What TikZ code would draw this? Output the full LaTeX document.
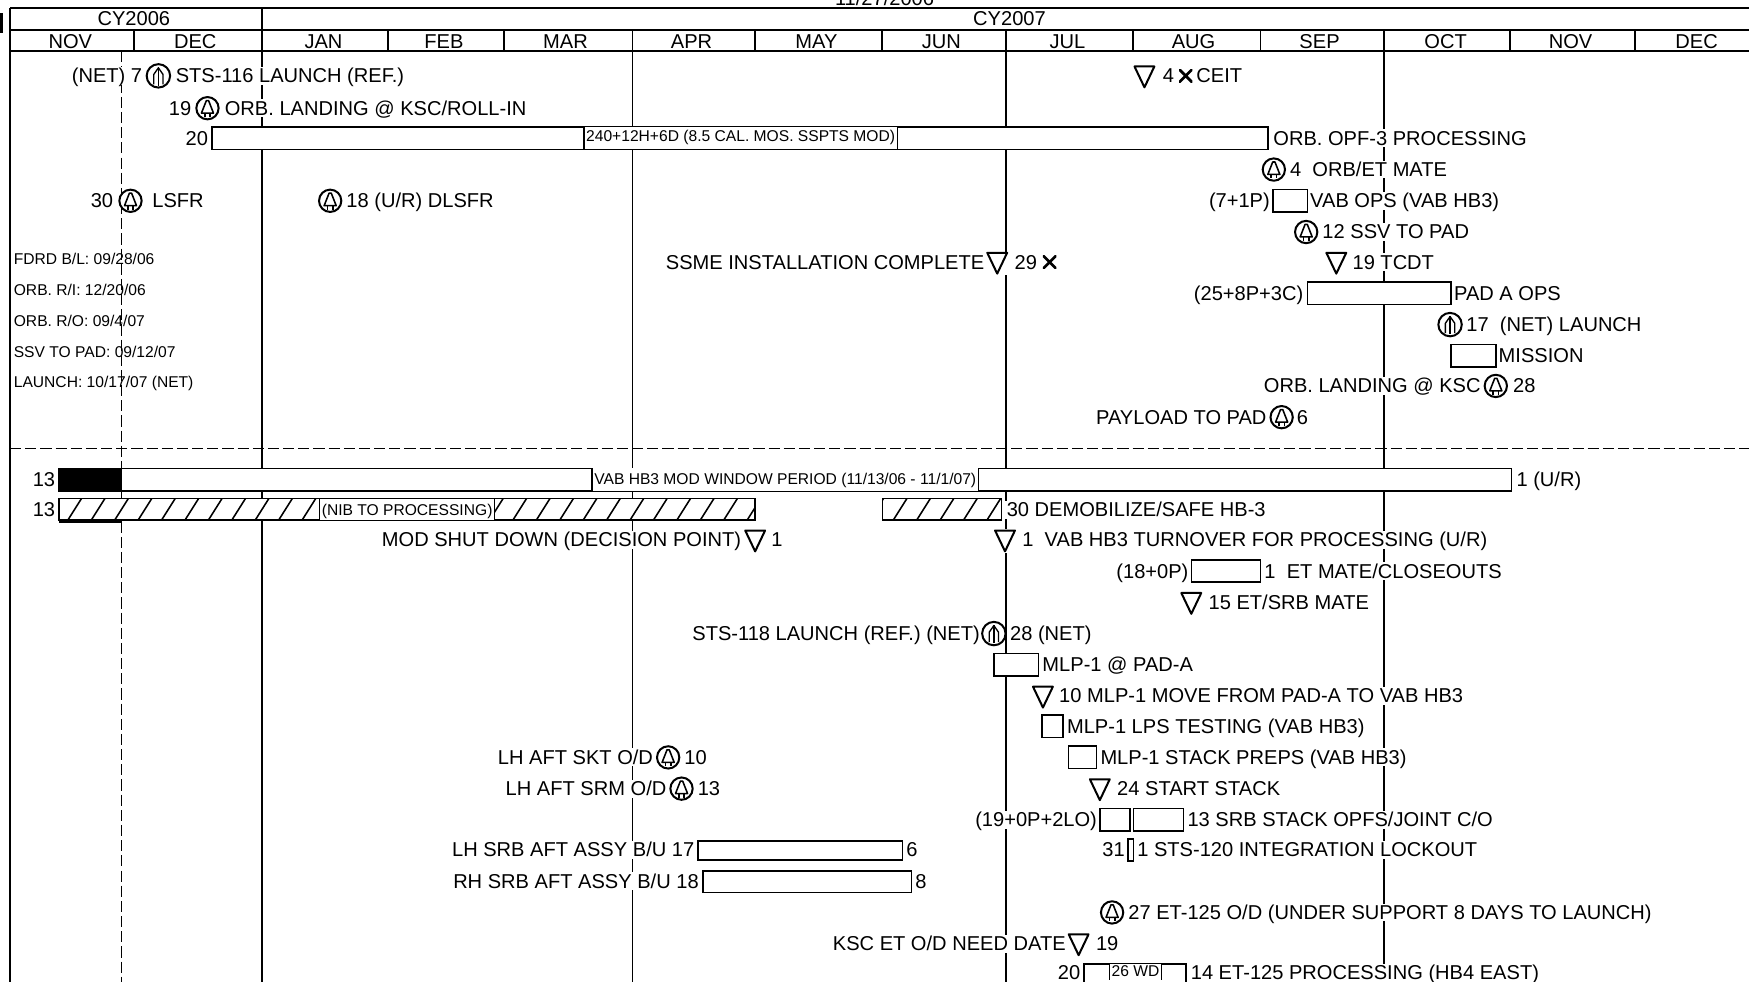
\documentclass[tikz,border=0pt]{standalone}
\usepackage{fontspec}
\setmainfont{Liberation Sans}
\usepackage{tikz}

\tikzset{
    frameline/.style={line width=0.8pt},
    gridline/.style={line width=0.75pt},
    today/.style={line width=0.7pt, dash pattern=on 5pt off 1.8pt},
    hdr/.style={font=\fontsize{9}{10}\selectfont, inner sep=0pt, text height=6.5pt, text depth=0.3pt},
    lbl/.style={font=\fontsize{9}{10}\selectfont, inner sep=0.6pt, fill=white, text height=6.5pt, text depth=0.3pt},
    rlbl/.style={lbl, anchor=west},
    llbl/.style={lbl, anchor=east},
    note/.style={font=\fontsize{7}{8}\selectfont, inner sep=0pt, anchor=west, text height=5pt, text depth=0.2pt},
    taskbox/.style={draw, line width=0.7pt, fill=white},
    hatch/.style={line width=0.7pt},
    tickline/.style={draw, line width=0.6pt},
    inlbl/.style={font=\fontsize{7}{8}\selectfont, fill=white, inner sep=0.8pt, minimum height=10pt,
        text height=5pt, text depth=0.3pt,
        append after command={(\tikzlastnode.north west) edge[tickline] (\tikzlastnode.south west)
                              (\tikzlastnode.north east) edge[tickline] (\tikzlastnode.south east)}},
    % milestone: open triangle pointing down
    drop/.style={minimum width=10pt, minimum height=10.5pt, inner sep=0pt, fill=white,
        path picture={
            \draw[line width=0.9pt, line join=round]
                ([shift={(0.55pt,-0.55pt)}]path picture bounding box.north west)
                -- ([shift={(-0.55pt,-0.55pt)}]path picture bounding box.north east)
                -- ([shift={(0pt,0.6pt)}]path picture bounding box.south) -- cycle;}},
    % orbiter landing / roll-over symbol
    landing/.style={circle, draw, line width=0.9pt, fill=white, minimum size=10pt, inner sep=0pt,
        path picture={
            \begin{scope}[shift={(path picture bounding box.center)}]
                \draw[line width=0.7pt, line join=round] (-2.7pt,-2.2pt) -- (-0.5pt,3.4pt) -- (0.5pt,3.4pt) -- (2.7pt,-2.2pt) -- cycle;
                \draw[line width=0.7pt] (-1.2pt,-2.2pt) -- (-1.2pt,-4pt) (1.2pt,-2.2pt) -- (1.2pt,-4pt);
            \end{scope}}},
    % launch symbol
    launch/.style={circle, draw, line width=0.9pt, fill=white, minimum size=10.5pt, inner sep=0pt,
        path picture={
            \begin{scope}[shift={(path picture bounding box.center)}]
                \draw[line width=0.6pt] (0pt,-4.4pt) -- (0pt,3.8pt);
                \draw[line width=0.6pt, line join=round] (-2.1pt,-3.8pt) -- (-2.1pt,0.6pt) -- (0pt,3.6pt) -- (2.1pt,0.6pt) -- (2.1pt,-3.8pt);
            \end{scope}}},
    xmark/.style={minimum size=6pt, inner sep=0pt,
        path picture={
            \draw[line width=1.2pt] (path picture bounding box.north west) -- (path picture bounding box.south east)
                                    (path picture bounding box.north east) -- (path picture bounding box.south west);}}
}

\begin{document}
\begin{tikzpicture}[x=0.5pt, y=-0.5pt]
        \useasboundingbox (0,0) rectangle (1568,880);

        % header: years and months
        \node[hdr] (date) at (793,-1) {11/27/2006};
        \fill (0,12) rectangle (3,30);
        \draw[frameline] (9,7) -- (1568,7);
        \draw[frameline] (9,27) -- (1568,27);
        \draw[frameline] (9,46) -- (1568,46);
        \draw[frameline] (9,7) -- (9,880);
        \draw[gridline] (235,7) -- (235,27);
        \node[hdr] (cy6) at (120,17) {CY2006};
        \node[hdr] (cy7) at (905,17) {CY2007};
        \foreach \mx in {120,235,348,452,567,677,791,902,1016,1130,1241,1354,1466}
            \draw[gridline] (\mx,27) -- (\mx,46);
        \foreach \mx/\mn [count=\i] in {63/NOV,175/DEC,290/JAN,398/FEB,507/MAR,620/APR,732/MAY,
                                       844/JUN,957/JUL,1070/AUG,1183/SEP,1296/OCT,1408/NOV,1521/DEC}
            \node[hdr] (mon\i) at (\mx,37) {\mn};

        % quarter lines, status date, section break
        \foreach \qx in {235,567,902,1241}
            \draw[gridline] (\qx,46) -- (\qx,880);
        \draw[today] (109,46) -- (109,880);
        \draw[today] (9,402) -- (1568,402);

        % ---- orbiter flow ----
        \node[llbl] (net7) at (129,68) {(NET) 7};
        \node[launch] (l116) at (142,68) {};
        \node[rlbl] (sts116) at (156,68) {STS-116 LAUNCH (REF.)};
        \node[drop] (ceitd) at (1026,69) {};
        \node[rlbl] (ceitn) at (1041,68) {4};
        \node[xmark] (ceitx) at (1063,68) {};
        \node[rlbl] (ceit) at (1071,68) {CEIT};

        \node[llbl] (rin19) at (173,97) {19};
        \node[landing] (rins) at (186,97) {};
        \node[rlbl] (rin) at (200,97) {ORB. LANDING @ KSC/ROLL-IN};

        \node[llbl] (opf20) at (188,124) {20};
        \draw[taskbox] (190,114) rectangle (1137,134);
        \node[inlbl, text depth=1.9pt] (opfin) at (664,124) {240+12H+6D (8.5 CAL. MOS. SSPTS MOD)};
        \node[rlbl] (opf) at (1140,124) {ORB. OPF-3 PROCESSING};

        \node[landing] (etms) at (1142,152) {};
        \node[rlbl] (etm) at (1155,152) {4\ \ ORB/ET MATE};

        \node[llbl] (lsfr30) at (103,180) {30};
        \node[landing] (lsfrs) at (117,180) {};
        \node[rlbl] (lsfr) at (135,180) {LSFR};
        \node[landing] (dlsfrs) at (296,180) {};
        \node[rlbl] (dlsfr) at (309,180) {18 (U/R) DLSFR};
        \node[llbl] (vab71) at (1140,180) {(7+1P)};
        \draw[taskbox] (1141,170) rectangle (1172,190);
        \node[rlbl] (vabops) at (1173,180) {VAB OPS (VAB HB3)};

        \node[landing] (ssvs) at (1171,208) {};
        \node[rlbl] (ssv) at (1184,208) {12 SSV TO PAD};

        \node[llbl] (ssme) at (884,235) {SSME INSTALLATION COMPLETE};
        \node[drop] (ssmed) at (894,236) {};
        \node[rlbl] (ssme29) at (908,235) {29};
        \node[xmark] (ssmex) at (941,235) {};
        \node[drop] (tcdtd) at (1198,236) {};
        \node[rlbl] (tcdt) at (1211,235) {19 TCDT};

        \node[llbl] (pad258) at (1170,263) {(25+8P+3C)};
        \draw[taskbox] (1172,253) rectangle (1301,273);
        \node[rlbl] (padops) at (1302,263) {PAD A OPS};

        \node[launch] (l17s) at (1300,291) {};
        \node[rlbl] (l17) at (1313,291) {17\ \ (NET) LAUNCH};

        \draw[taskbox] (1301,309) rectangle (1341,329);
        \node[rlbl] (mission) at (1342,319) {MISSION};

        \node[llbl] (kscl) at (1329,346) {ORB. LANDING @ KSC};
        \node[landing] (kscls) at (1341,346) {};
        \node[rlbl] (kscl28) at (1355,346) {28};

        \node[llbl] (pay) at (1137,374) {PAYLOAD TO PAD};
        \node[landing] (pays) at (1149,374) {};
        \node[rlbl] (pay6) at (1161,374) {6};

        % key dates
        \node[note] (fdrd) at (12,232) {FDRD B/L: 09/28/06};
        \node[note] (orbri) at (12,260) {ORB. R/I: 12/20/06};
        \node[note] (orbro) at (12,288) {ORB. R/O: 09/4/07};
        \node[note] (ssvpad) at (12,316) {SSV TO PAD: 09/12/07};
        \node[note] (lnch) at (12,343) {LAUNCH: 10/17/07 (NET)};

        % ---- VAB HB3 / stacking flow ----
        \node[llbl] (hb13) at (51,430) {13};
        \draw[taskbox] (53,420) rectangle (1355,440);
        \fill (53,420) rectangle (109,440);
        \node[inlbl] (hbin) at (704,430) {VAB HB3 MOD WINDOW PERIOD (11/13/06 - 11/1/07)};
        \node[rlbl] (hbur) at (1358,430) {1 (U/R)};

        \node[llbl] (nib13) at (51,457) {13};
        \draw[taskbox] (53,447) rectangle (677,466);
        \begin{scope}
            \clip (53,447) rectangle (677,466);
            \foreach \hx in {40,61,...,690}
                \draw[hatch] (\hx,466) -- ++(12,-19);
        \end{scope}
        \draw[taskbox, fill=none] (53,447) rectangle (677,466);
        \fill (53,465) rectangle (109,469);
        \node[inlbl, minimum height=9.5pt] (nibin) at (365,457) {(NIB TO PROCESSING)};

        \draw[taskbox] (791,447) rectangle (898,466);
        \begin{scope}
            \clip (791,447) rectangle (898,466);
            \foreach \hx in {780,801,...,900}
                \draw[hatch] (\hx,466) -- ++(12,-19);
        \end{scope}
        \draw[taskbox, fill=none] (791,447) rectangle (898,466);
        \node[rlbl] (demob) at (901,457) {30 DEMOBILIZE/SAFE HB-3};

        \node[llbl] (modsd) at (666,484) {MOD SHUT DOWN (DECISION POINT)};
        \node[drop] (modsdd) at (677,485) {};
        \node[rlbl] (modsd1) at (690,484) {1};
        \node[drop] (turnd) at (901,485) {};
        \node[rlbl] (turn) at (915,484) {1\ \ VAB HB3 TURNOVER FOR PROCESSING (U/R)};

        \node[llbl] (et180) at (1067,512) {(18+0P)};
        \draw[taskbox] (1068,502) rectangle (1130,522);
        \node[rlbl] (etmate) at (1132,512) {1\ \ ET MATE/CLOSEOUTS};

        \node[drop] (srbd) at (1068,541) {};
        \node[rlbl] (srbm) at (1082,540) {15 ET/SRB MATE};

        \node[llbl] (sts118) at (880,568) {STS-118 LAUNCH (REF.) (NET)};
        \node[launch] (l118) at (891,568) {};
        \node[rlbl] (n28) at (904,568) {28 (NET)};

        \draw[taskbox] (891,586) rectangle (931,606);
        \node[rlbl] (mlppad) at (933,596) {MLP-1 @ PAD-A};

        \node[drop] (moved) at (935,625) {};
        \node[rlbl] (mlpmove) at (948,624) {10 MLP-1 MOVE FROM PAD-A TO VAB HB3};

        \draw[taskbox] (934,641) rectangle (953,661);
        \node[rlbl] (lps) at (955,651) {MLP-1 LPS TESTING (VAB HB3)};

        \node[llbl] (skt) at (587,679) {LH AFT SKT O/D};
        \node[landing] (skts) at (599,679) {};
        \node[rlbl] (skt10) at (612,679) {10};
        \draw[taskbox] (958,669) rectangle (983,689);
        \node[rlbl] (preps) at (985,679) {MLP-1 STACK PREPS (VAB HB3)};

        \node[llbl] (srm) at (599,707) {LH AFT SRM O/D};
        \node[landing] (srms) at (611,707) {};
        \node[rlbl] (srm13) at (624,707) {13};
        \node[drop] (stackd) at (986,708) {};
        \node[rlbl] (stack) at (1000,707) {24 START STACK};

        \node[llbl] (srb19) at (985,735) {(19+0P+2LO)};
        \draw[taskbox] (986,725) rectangle (1013,745);
        \draw[taskbox] (1016,725) rectangle (1061,745);
        \node[rlbl] (srbops) at (1063,735) {13 SRB STACK OPFS/JOINT C/O};

        \node[llbl] (lhsrb) at (624,762) {LH SRB AFT ASSY B/U 17};
        \draw[taskbox] (626,754) rectangle (809,771);
        \node[rlbl] (lhsrb6) at (811,762) {6};
        \node[llbl] (lock31) at (1010,762) {31};
        \draw[taskbox] (1011,752) rectangle (1016,772);
        \node[rlbl] (lock) at (1018,762) {1 STS-120 INTEGRATION LOCKOUT};

        \node[llbl] (rhsrb) at (628,790) {RH SRB AFT ASSY B/U 18};
        \draw[taskbox] (630,781) rectangle (817,800);
        \node[rlbl] (rhsrb8) at (819,790) {8};

        \node[landing] (et125s) at (997,818) {};
        \node[rlbl] (et125) at (1010,818) {27 ET-125 O/D (UNDER SUPPORT 8 DAYS TO LAUNCH)};

        \node[llbl] (need) at (957,846) {KSC ET O/D NEED DATE};
        \node[drop] (needd) at (967,847) {};
        \node[rlbl] (need19) at (981,846) {19};

        \node[llbl] (hb420) at (970,872) {20};
        \draw[taskbox] (972,864) rectangle (1063,888);
        \node[inlbl, minimum height=7pt] (wdin) at (1018,871) {26 WD};
        \node[rlbl] (hb4) at (1066,872) {14 ET-125 PROCESSING (HB4 EAST)};
    \end{tikzpicture}
\end{document}
